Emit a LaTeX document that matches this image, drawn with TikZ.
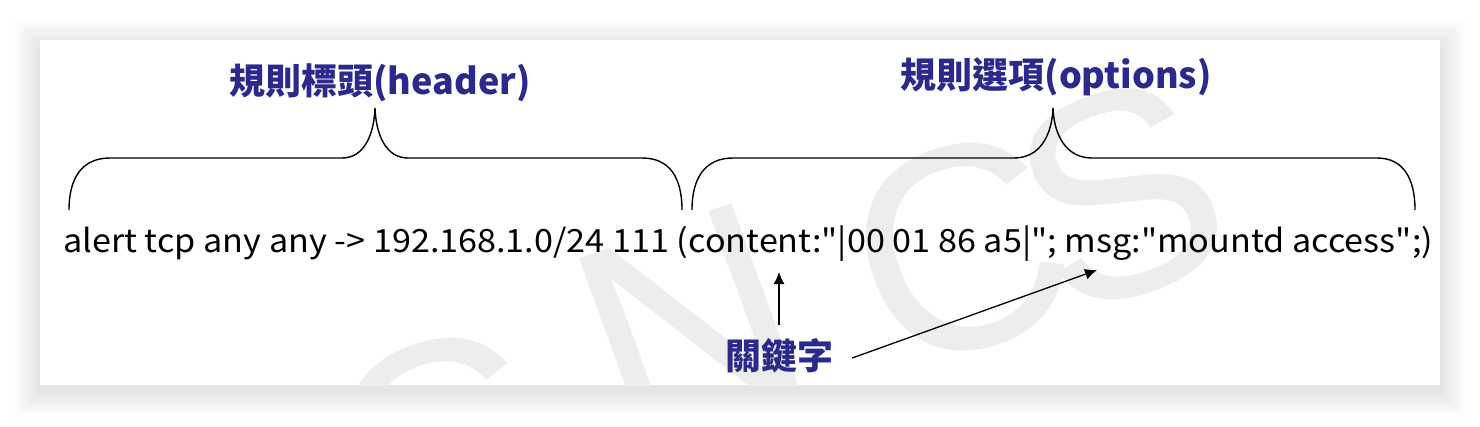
\documentclass[tikz,border=0pt]{standalone}
\usepackage{fontspec}
\newfontfamily\cjk{Noto Sans CJK TC}
\newfontfamily\wmfont{Liberation Sans}
\usetikzlibrary{arrows.meta}
\definecolor{navy}{RGB}{43,42,140}
\begin{document}
\begin{tikzpicture}[x=1pt,y=-1pt,
  lbl/.style={text=navy,font=\cjk\bfseries\fontsize{36}{40}\selectfont,inner sep=0pt},
  rule/.style={text=black,font=\cjk\fontsize{32}{36}\selectfont,inner sep=0pt},
  bracepath/.style={line width=1.4pt,black},
  arr/.style={line width=1.3pt,-{Latex[length=12pt,width=11pt]}},
  wm/.style={text=black!7,font=\wmfont\fontsize{290}{290}\selectfont,rotate=20,inner sep=0pt}]
\useasboundingbox (0,0) rectangle (1480,426);
\fill[white] (0,0) rectangle (1480,426);
% soft shadow of the card
\foreach \i in {1,...,26} {
  \fill[black,opacity=0.005] ({40-\i},{40-\i+6}) rectangle ({1440+\i},{385+\i+6});
}
\fill[white] (40,40) rectangle (1440,385);
% watermark
\begin{scope}
\clip (40,40) rectangle (1440,385);
\node[wm] (w1) at (290,500) {S};
\node[wm] (w2) at (440,445) {C};
\node[wm] (w3) at (690,325) {N};
\node[wm] (w4) at (960,250) {C};
\node[wm] (w5) at (1120,195) {S};
\end{scope}
% labels
\node[lbl] (hdr) at (380,83) {規則標頭(header)};
\node[lbl] (opt) at (1056,77) {規則選項(options)};
\node[lbl] (kw) at (779,356) {關鍵字};
% rule text
\node[rule,anchor=base west] (txt) at (63,252) {\scalebox{1.068}[1]{alert tcp any any -> 192.168.1.0/24 111 (content:"|00 01 86 a5|"; msg:"mountd access";)}};
% braces
\draw[bracepath] (69,210) .. controls (69,178) and (82,158) .. (110,158)
  -- (342,158) .. controls (364,158) and (374,135) .. (375,108)
  .. controls (376,135) and (386,158) .. (408,158)
  -- (642,158) .. controls (670,158) and (682,178) .. (682,210);
\draw[bracepath] (692,210) .. controls (692,178) and (705,158) .. (733,158)
  -- (1014,158) .. controls (1040,158) and (1052,135) .. (1053,108)
  .. controls (1054,135) and (1066,158) .. (1092,158)
  -- (1377,158) .. controls (1403,158) and (1415,178) .. (1415,210);
% arrows
\coordinate (t1) at (779,272);
\coordinate (t2) at (1097,270);
\draw[arr,shorten <=13pt] (kw.north) -- (t1);
\draw[arr] ([xshift=19pt,yshift=-2pt]kw.east) -- (t2);
\end{tikzpicture}
\end{document}
